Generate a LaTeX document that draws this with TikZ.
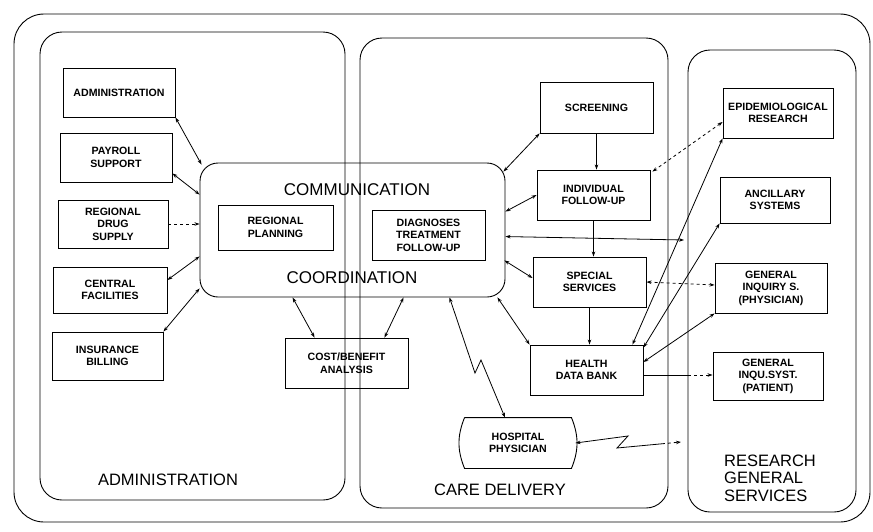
\documentclass[tikz,border=0pt]{standalone}
\usepackage{fontspec}
\setmainfont{Liberation Sans}
\usetikzlibrary{arrows.meta,calc}
\begin{document}
\begin{tikzpicture}[x=1pt,y=-1pt,
  >={Stealth[length=5pt,width=3.5pt]},
  panel/.style={draw, line width=0.9pt, rounded corners=#1, inner sep=0pt},
  panel/.default=22pt,
  bx/.style={draw, line width=0.9pt, align=center, inner sep=0pt, font=\fontsize{10.6}{12.5}\selectfont\bfseries},
  link/.style={line width=0.8pt},
  biglabel/.style={font=\fontsize{16.5}{17}\selectfont, inner sep=0pt},
  cclabel/.style={font=\fontsize{17}{18}\selectfont, inner sep=0pt}
]
\useasboundingbox (0,0) rectangle (873,531);

% panels
\node[panel=30pt, minimum width=856pt, minimum height=508pt] (outer) at (442,268) {};
\node[panel, minimum width=305pt, minimum height=468pt] (admp) at (192.5,266) {};
\node[panel, minimum width=308pt, minimum height=470pt] (carep) at (514,273) {};
\node[panel, minimum width=168pt, minimum height=462pt] (resp) at (772,281) {};

% central communication / coordination box
\node[panel=18pt, minimum width=305pt, minimum height=134pt] (comm) at (352.5,230) {};
\node[cclabel] (commtxt) at (357,190) {COMMUNICATION};
\node[cclabel] (coordtxt) at (352,278) {COORDINATION};

% administration boxes
\node[bx, minimum width=112pt, minimum height=49pt] (adm) at (119,92.5) {ADMINISTRATION};
\node[bx, minimum width=112pt, minimum height=49pt] (pay) at (116,157.5) {PAYROLL\\SUPPORT};
\node[bx, minimum width=110pt, minimum height=48pt] (drug) at (113,224) {REGIONAL\\DRUG\\SUPPLY};
\node[bx, minimum width=114pt, minimum height=46pt] (cent) at (110,290) {CENTRAL\\FACILITIES};
\node[bx, minimum width=111pt, minimum height=48pt] (ins) at (107.5,356) {INSURANCE\\BILLING};
\node[bx, minimum width=115pt, minimum height=45pt] (rp) at (275.5,227.5) {REGIONAL\\PLANNING};
\node[bx, minimum width=113pt, minimum height=50pt] (diag) at (428.5,235) {DIAGNOSES\\TREATMENT\\FOLLOW-UP};
\node[bx, minimum width=123pt, minimum height=50pt] (cost) at (346.5,363) {COST/BENEFIT\\ANALYSIS};

% care delivery boxes
\node[bx, minimum width=113pt, minimum height=51pt] (scr) at (596.5,107.5) {SCREENING};
\node[bx, minimum width=113pt, minimum height=50pt] (ind) at (593.5,195) {INDIVIDUAL\\FOLLOW-UP};
\node[bx, minimum width=113pt, minimum height=50pt] (spec) at (589.5,282) {SPECIAL\\SERVICES};
\node[bx, minimum width=113pt, minimum height=50pt] (hdb) at (586.5,370) {HEALTH\\DATA BANK};
\node[bx, draw=none, minimum width=106pt, minimum height=50pt] (hp) at (518,443) {HOSPITAL\\PHYSICIAN};
\draw[line width=0.9pt] (hp.north west) -- (hp.north east) to[bend left=22] (hp.south east)
  -- (hp.south west) to[bend left=22] (hp.north west);

% research boxes
\node[bx, minimum width=110pt, minimum height=50pt] (epi) at (778,113) {EPIDEMIOLOGICAL\\RESEARCH};
\node[bx, minimum width=110pt, minimum height=46pt] (anc) at (775,200) {ANCILLARY\\SYSTEMS};
\node[bx, minimum width=112pt, minimum height=50pt] (gip) at (771,288) {GENERAL\\INQUIRY S.\\(PHYSICIAN)};
\node[bx, minimum width=110pt, minimum height=48pt] (gipat) at (768,376) {GENERAL\\INQU.SYST.\\(PATIENT)};

% panel labels
\node[biglabel] (admlbl) at (168,480) {ADMINISTRATION};
\node[biglabel] (carelbl) at (500,490) {CARE DELIVERY};
\node[biglabel, anchor=west, align=left, font=\fontsize{16.5}{17.5}\selectfont] (reslbl) at (724,478) {RESEARCH\\GENERAL\\SERVICES};

% free ends
\coordinate (rx1) at (684,240);
\coordinate (rx2) at (681,442);
\coordinate (dbmid) at (688,375);
\coordinate (hpz1) at (628,436);
\coordinate (hpz2) at (617,448);
\coordinate (lz1) at (475,373);
\coordinate (lz2) at (481,360);

% administration connectors
\draw[link,<->] (adm.south east) -- ($(comm.north west)+(2,2)$);
\draw[link,<->] ($(pay.south east)+(0,-9)$) -- ($(comm.north west)+(0,32)$);
\draw[link,->,dashed] (drug.east) -- (comm.west |- drug.east);
\draw[link,<->] ($(cent.east)+(0,-10)$) -- ($(comm.south west)+(0,-41)$);
\draw[link,<->] (ins.north east) -- ($(comm.south west)+(0,-9)$);
\draw[link,<->] ($(comm.south west)+(93,0)$) -- ($(cost.north west)+(30,0)$);
\draw[link,<->] ($(comm.south west)+(204,0)$) -- ($(cost.north east)+(-24,0)$);

% care delivery connectors
\draw[link,<->] (scr.south west) -- ($(comm.north east)+(-2,9)$);
\draw[link,->] (scr.south) -- (scr.south |- ind.north);
\draw[link,<->] (ind.west) -- ($(comm.north east)+(0,49)$);
\draw[link,<->] ($(comm.north east)+(0,74)$) -- (rx1);
\draw[link,->] (ind.south) -- (ind.south |- spec.north);
\draw[link,<->] ($(comm.south east)+(-1,-37)$) -- ($(spec.west)+(0,-4)$);
\draw[link,<->] ($(comm.south east)+(-8,0)$) -- (hdb.north west);
\draw[link,->] (spec.south) -- (spec.south |- hdb.north);
\draw[link,<->] ($(comm.south)+(97,0)$) -- (lz1) -- (lz2) -- ($(hp.north)+(-13,0)$);

% research connectors
\draw[link,<->,dashed] ($(epi.west)+(0,9)$) -- ($(ind.north east)+(2,2)$);
\draw[link,<->] (epi.south west) -- ($(hdb.north east)+(-11,0)$);
\draw[link,<->] (anc.south west) -- ($(hdb.north east)+(0,3)$);
\draw[link,<->,dashed] ($(gip.west)+(0,-3)$) -- (spec.east);
\draw[link,<->] (gip.south west) -- ($(hdb.east)+(0,-8)$);
\draw[link] ($(hdb.east)+(0,5)$) -- (dbmid);
\draw[link,->,dashed] (dbmid) -- (gipat.west |- dbmid);
\draw[link,<-] ($(hp.east)+(4,0)$) -- (hpz1) -- (hpz2) -- ($(hpz2)!0.7!(rx2)$);
\draw[link,->,dashed] ($(hpz2)!0.7!(rx2)$) -- (rx2);
\end{tikzpicture}
\end{document}
